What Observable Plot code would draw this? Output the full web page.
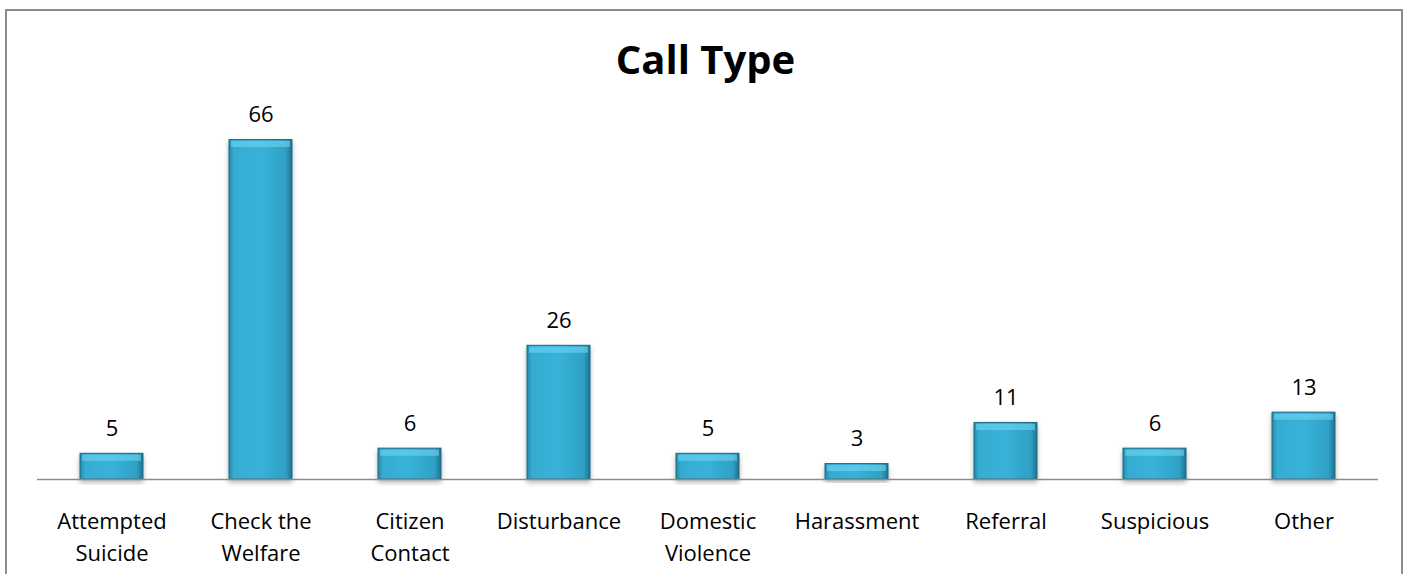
<!DOCTYPE html>
<html>
<head>
<meta charset="utf-8">
<script src="https://cdn.jsdelivr.net/npm/d3@7"></script>
<script src="https://cdn.jsdelivr.net/npm/@observablehq/plot@0.6"></script>
<style>
  html, body { margin: 0; padding: 0; background: #fff; }
  body { position: relative; width: 1409px; height: 574px; overflow: hidden; font-family: "Open Sans", sans-serif; }
  #frame { position: absolute; left: 5px; top: 9px; width: 1398px; height: 600px; border: 2px solid #8c8c8c; box-sizing: border-box; }
  #title { position: absolute; left: 0; width: 1409px; top: 31px; text-align: center; font: bold 40px "Open Sans", sans-serif; color: #000; line-height: normal; margin-left: 1px; }
  #chart { position: absolute; left: 0; top: 60px; }
</style>
</head>
<body>
<div id="frame"></div>
<div id="title">Call Type</div>
<div id="chart"></div>
<script>
const categories = ["Attempted\nSuicide", "Check the\nWelfare", "Citizen\nContact", "Disturbance", "Domestic\nViolence", "Harassment", "Referral", "Suspicious", "Other"];
const counts = [5, 66, 6, 26, 5, 3, 11, 6, 13];

const data = categories.map((c, i) => ({category: c, count: counts[i]}));

const plot = Plot.plot({
  width: 1409,
  height: 514,
  marginTop: 59,
  marginBottom: 95,
  marginLeft: 37,
  marginRight: 31,
  style: {fontFamily: "Open Sans, sans-serif", fontSize: "22px", color: "#000", background: "transparent", overflow: "visible"},
  x: {domain: categories, paddingInner: 0.58, paddingOuter: 0.29, label: null},
  y: {domain: [0, 70], axis: null},
  marks: [
    Plot.barY(data, {x: "category", y: "count", fill: "url(#barGrad)", stroke: "#1d6a83", strokeWidth: 1}),
    Plot.tickY(data, {x: "category", y: "count", stroke: "#6fd6f2", strokeWidth: 6, dy: 4, inset: 2, strokeOpacity: 0.6}),
    Plot.ruleY([0], {stroke: "#8c8c8c", strokeWidth: 1.5}),
    Plot.text(data, {x: "category", y: "count", text: d => String(d.count), lineAnchor: "bottom", dy: -18, fontSize: 22, fill: "#000"}),
    Plot.axisX({tickSize: 0, tickPadding: 27, fontSize: 22, lineHeight: 1.45, fill: "#000", label: null})
  ]
});

const svg = d3.select(plot);
const defs = svg.insert("defs", ":first-child");
const g = defs.append("linearGradient").attr("id", "barGrad").attr("x1", "0").attr("x2", "1").attr("y1", "0").attr("y2", "0");
[["0%", "#2788a8"], ["8%", "#36acd2"], ["50%", "#38b2da"], ["90%", "#2fa0c4"], ["100%", "#1e7190"]].forEach(([o, c]) => g.append("stop").attr("offset", o).attr("stop-color", c));
const f = defs.append("filter").attr("id", "shadow").attr("x", "-20%").attr("y", "-20%").attr("width", "140%").attr("height", "140%");
f.append("feDropShadow").attr("dx", 0).attr("dy", 3).attr("stdDeviation", 2.5).attr("flood-color", "#000").attr("flood-opacity", 0.3);
svg.selectAll("[aria-label='bar'] rect").attr("filter", "url(#shadow)");

document.getElementById("chart").appendChild(plot);
</script>
</body>
</html>
